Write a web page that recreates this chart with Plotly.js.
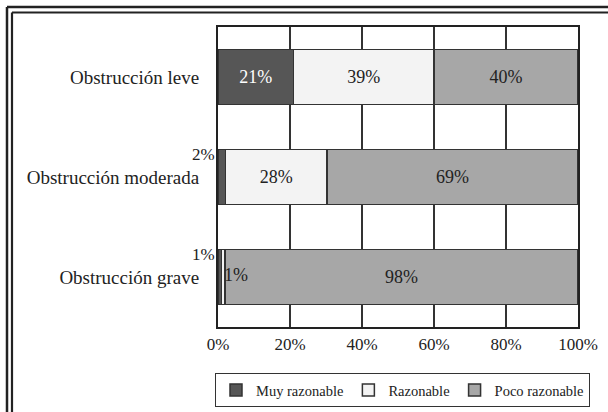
<!DOCTYPE html>
<html>
<head>
<meta charset="utf-8">
<script src="https://cdn.plot.ly/plotly-3.0.1.min.js"></script>
<style>html,body{margin:0;padding:0;background:#fff;}#chart{width:608px;height:412px;}</style>
</head>
<body>
<div id="chart"></div>
<script>
const categories = ['Obstrucción leve', 'Obstrucción moderada', 'Obstrucción grave'];
const seriesNames = ['Muy razonable', 'Razonable', 'Poco razonable'];
const muyRazonable = [21, 2, 1];
const razonable = [39, 28, 1];
const pocoRazonable = [40, 69, 98];
const xTicks = [0, 20, 40, 60, 80, 100];

const W = 608, H = 412;
const M = {l: 218, r: 30, t: 27, b: 85, autoexpand: false};
const pw = W - M.l - M.r, ph = H - M.t - M.b;
const px = v => (v - M.l) / pw;
const py = v => (H - M.b - v) / ph;

const FONT = 'Liberation Serif, Times New Roman, serif';
const colors = ['#565656', '#f3f3f3', '#a7a7a7'];
const textColors = ['#ffffff', '#222222', '#222222'];
const series = [muyRazonable, razonable, pocoRazonable];

const traces = series.map((vals, i) => ({
  type: 'bar',
  orientation: 'h',
  name: seriesNames[i],
  y: categories,
  x: vals,
  text: vals.map(v => v >= 5 ? v + '%' : ''),
  textposition: 'inside',
  insidetextanchor: 'middle',
  textangle: 0,
  constraintext: 'none',
  textfont: {family: FONT, size: 18, color: textColors[i]},
  marker: {color: colors[i], line: {color: '#333333', width: 1.5}},
  hoverinfo: 'skip'
}));

// labels for small segments, derived from the data arrays
const annotations = [];
categories.forEach((c, j) => {
  const total = series.reduce((s, arr) => s + arr[j], 0);
  let start = 0;
  series.forEach((arr, i) => {
    const v = arr[j];
    if (v < 5) {
      if (i === 0) {
        annotations.push({x: 0, y: c, xref: 'x', yref: 'y', text: v + '%', showarrow: false,
          xanchor: 'right', yanchor: 'middle', xshift: -1, yshift: 23,
          font: {family: FONT, size: 17, color: '#222'}});
      } else {
        annotations.push({x: start / total * 100, y: c, xref: 'x', yref: 'y', text: v + '%', showarrow: false,
          xanchor: 'left', yanchor: 'middle', xshift: 0, yshift: 2,
          font: {family: FONT, size: 18, color: '#222'}});
      }
    }
    start += v;
  });
});

const frameColor = '#222222';
const shapes = [
  {type: 'line', xref: 'paper', yref: 'paper', x0: px(7), x1: px(7), y0: py(7), y1: py(420), line: {color: frameColor, width: 2.5}},
  {type: 'line', xref: 'paper', yref: 'paper', x0: px(7), x1: px(620), y0: py(7), y1: py(7), line: {color: frameColor, width: 2.5}},
  {type: 'line', xref: 'paper', yref: 'paper', x0: px(12), x1: px(12), y0: py(12.5), y1: py(420), line: {color: frameColor, width: 2.2}},
  {type: 'line', xref: 'paper', yref: 'paper', x0: px(12), x1: px(620), y0: py(12.5), y1: py(12.5), line: {color: frameColor, width: 2.2}}
];

const layout = {
  width: W, height: H,
  margin: M,
  paper_bgcolor: '#ffffff',
  plot_bgcolor: '#ffffff',
  barmode: 'stack',
  barnorm: 'percent',
  bargap: 0.45,
  font: {family: FONT, size: 16, color: '#222'},
  showlegend: true,
  legend: {
    orientation: 'h',
    xref: 'paper', yref: 'paper',
    x: px(215), xanchor: 'left',
    y: py(373), yanchor: 'top',
    bgcolor: '#ffffff', bordercolor: '#333333', borderwidth: 1,
    font: {family: FONT, size: 14.5, color: '#222'},
    traceorder: 'normal'
  },
  xaxis: {
    range: [0, 100],
    tickvals: xTicks,
    ticktext: xTicks.map(v => v + '%'),
    showgrid: true, gridcolor: '#333333', gridwidth: 1.5,
    zeroline: false,
    showline: true, mirror: true, linecolor: '#222222', linewidth: 2,
    ticks: '', ticklabelstandoff: 1,
    tickfont: {family: FONT, size: 17, color: '#222'},
    fixedrange: true
  },
  yaxis: {
    autorange: 'reversed',
    showgrid: false, zeroline: false,
    showline: true, mirror: true, linecolor: '#222222', linewidth: 2,
    ticks: '', ticklabelstandoff: 13,
    tickfont: {family: FONT, size: 19, color: '#222'},
    fixedrange: true
  },
  annotations: annotations,
  shapes: shapes
};

Plotly.newPlot('chart', traces, layout, {displayModeBar: false, staticPlot: true});
</script>
</body>
</html>
